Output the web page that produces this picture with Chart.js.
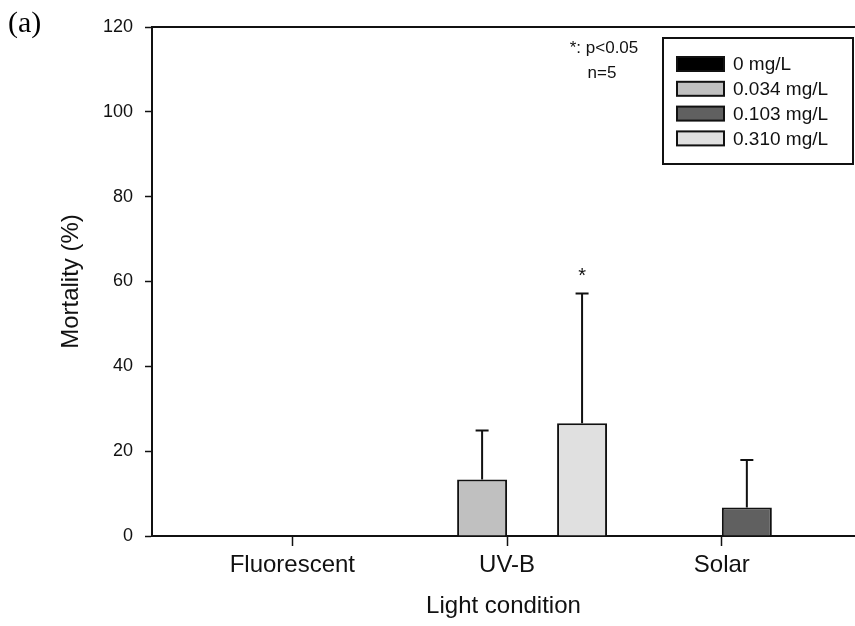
<!DOCTYPE html>
<html>
<head>
<meta charset="utf-8">
<script src="https://cdn.jsdelivr.net/npm/chart.js@4.4.1/dist/chart.umd.min.js"></script>
<style>
  html, body { margin: 0; padding: 0; background: #fff; overflow: hidden; }
  #wrap { position: relative; width: 855px; height: 626px; }
</style>
</head>
<body>
<div id="wrap"><canvas id="chart" width="855" height="626"></canvas></div>
<script>
// Light conditions (x categories) and treatment concentrations (series)
const categories = ['Fluorescent', 'UV-B', 'Solar'];
const concentrations = ['0 mg/L', '0.034 mg/L', '0.103 mg/L', '0.310 mg/L'];

// Mean mortality (%) per light condition, one array per concentration
const mortality0 = [0, 0, 0];
const mortality034 = [0, 13.3, 0];
const mortality103 = [0, 0, 6.7];
const mortality310 = [0, 26.6, 0];

// Standard deviation (upper error bar) per light condition
const sd0 = [0, 0, 0];
const sd034 = [0, 11.6, 0];
const sd103 = [0, 0, 11.2];
const sd310 = [0, 30.6, 0];

// Significance markers per light condition
const sig0 = ['', '', ''];
const sig034 = ['', '', ''];
const sig103 = ['', '', ''];
const sig310 = ['', '*', ''];

// Y axis ticks
const yTicks = [0, 20, 40, 60, 80, 100, 120];

const seriesValues = [mortality0, mortality034, mortality103, mortality310];
const seriesErrors = [sd0, sd034, sd103, sd310];
const seriesSig = [sig0, sig034, sig103, sig310];
const fills = ['#000000', '#c0c0c0', '#606060', '#e0e0e0'];
const INK = '#111111';
const SANS = '"Liberation Sans", Arial, sans-serif';

const datasets = concentrations.map((label, s) => ({
  label,
  data: categories.map((c, i) => ({ x: i + 1, y: seriesValues[s][i] })),
  errors: seriesErrors[s],
  sig: seriesSig[s],
  backgroundColor: fills[s],
  borderColor: INK,
  borderWidth: 2,
  borderSkipped: 'start'
}));

// Upper error bars with caps, plus significance stars above them
const errorBarPlugin = {
  id: 'errorBars',
  afterDatasetsDraw(chart) {
    const ctx = chart.ctx;
    const y = chart.scales.y;
    ctx.save();
    chart.data.datasets.forEach((ds, di) => {
      const meta = chart.getDatasetMeta(di);
      meta.data.forEach((bar, i) => {
        const v = ds.data[i].y;
        const e = ds.errors[i];
        if (e > 0) {
          const top = y.getPixelForValue(v + e);
          ctx.strokeStyle = INK;
          ctx.lineWidth = 2;
          ctx.beginPath();
          ctx.moveTo(bar.x, bar.y);
          ctx.lineTo(bar.x, top);
          ctx.moveTo(bar.x - 6.5, top);
          ctx.lineTo(bar.x + 6.5, top);
          ctx.stroke();
        }
        if (ds.sig[i]) {
          const top = y.getPixelForValue(v + e);
          ctx.fillStyle = INK;
          ctx.font = '20px ' + SANS;
          ctx.textAlign = 'center';
          ctx.textBaseline = 'alphabetic';
          ctx.fillText(ds.sig[i], bar.x, top - 11);
        }
      });
    });
    ctx.restore();
  }
};

// Top frame line, legend box, statistics note and panel label
const decorPlugin = {
  id: 'decor',
  afterDraw(chart) {
    const ctx = chart.ctx;
    const a = chart.chartArea;
    ctx.save();
    // top frame
    ctx.strokeStyle = INK;
    ctx.lineWidth = 2;
    ctx.beginPath();
    ctx.moveTo(a.left - 1, a.top);
    ctx.lineTo(a.right, a.top);
    ctx.stroke();

    // panel label
    ctx.fillStyle = '#000';
    ctx.font = '30px "Liberation Serif", "Times New Roman", serif';
    ctx.textAlign = 'left';
    ctx.textBaseline = 'middle';
    ctx.fillText('(a)', 8, 24);

    // statistics note
    ctx.fillStyle = INK;
    ctx.font = '17px ' + SANS;
    ctx.textAlign = 'center';
    ctx.textBaseline = 'middle';
    ctx.fillText('*: p<0.05', a.left + 452, a.top + 21);
    ctx.fillText('n=5', a.left + 450, a.top + 46);

    // legend
    const bx = a.right - 192, by = a.top + 11, bw = 190, bh = 126;
    ctx.lineWidth = 2;
    ctx.strokeStyle = INK;
    ctx.strokeRect(bx, by, bw, bh);
    ctx.font = '19px ' + SANS;
    ctx.textAlign = 'left';
    ctx.textBaseline = 'middle';
    chart.data.datasets.forEach((ds, i) => {
      const cy = by + 26 + i * 24.8;
      ctx.fillStyle = ds.backgroundColor;
      ctx.fillRect(bx + 14, cy - 7, 47, 14);
      ctx.strokeRect(bx + 14, cy - 7, 47, 14);
      ctx.fillStyle = INK;
      ctx.fillText(ds.label, bx + 70, cy + 1);
    });
    ctx.restore();
  }
};

new Chart(document.getElementById('chart'), {
  type: 'bar',
  data: { datasets },
  options: {
    responsive: false,
    animation: false,
    devicePixelRatio: 1,
    layout: { padding: { top: 27, right: 0, bottom: 0, left: 0 } },
    categoryPercentage: 0.931,
    barPercentage: 1,
    plugins: { legend: { display: false }, tooltip: { enabled: false } },
    scales: {
      x: {
        type: 'linear',
        min: 0.3465,
        max: 3.62,
        offset: false,
        afterBuildTicks(scale) {
          scale.ticks = categories.map((c, i) => ({ value: i + 1 }));
        },
        afterFit(scale) { scale.height = 90; },
        ticks: {
          autoSkip: false,
          maxRotation: 0,
          padding: 5,
          color: INK,
          font: { family: SANS, size: 24 },
          callback: (v) => categories[Math.round(v) - 1]
        },
        grid: {
          offset: false,
          drawOnChartArea: false,
          drawTicks: true,
          tickLength: 10,
          tickColor: INK,
          tickWidth: 1.5
        },
        border: { display: true, color: INK, width: 2 },
        title: {
          display: true,
          text: 'Light condition',
          color: INK,
          font: { family: SANS, size: 24 },
          padding: { top: 0, bottom: 5 }
        }
      },
      y: {
        min: 0,
        max: 120,
        afterBuildTicks(scale) {
          scale.ticks = yTicks.map(v => ({ value: v }));
        },
        afterFit(scale) { scale.width = 152; },
        ticks: {
          padding: 12,
          color: INK,
          font: { family: SANS, size: 18 }
        },
        grid: {
          drawOnChartArea: false,
          drawTicks: true,
          tickLength: 7,
          tickColor: INK,
          tickWidth: 1.5
        },
        border: { display: true, color: INK, width: 2 },
        title: {
          display: true,
          text: 'Mortality (%)',
          color: INK,
          font: { family: SANS, size: 24 },
          padding: { top: 57, bottom: 0 }
        }
      }
    }
  },
  plugins: [errorBarPlugin, decorPlugin]
});
</script>
</body>
</html>
